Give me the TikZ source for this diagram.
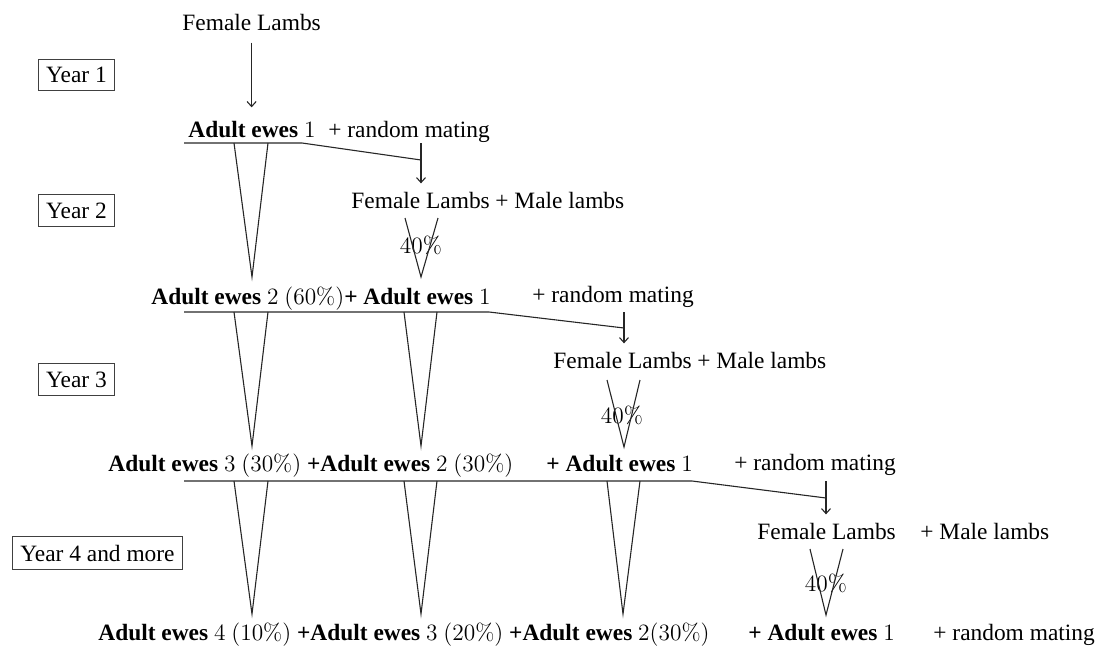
\documentclass[tikz,border=0pt]{standalone}
\usepackage{fontspec}
\setmainfont{Liberation Serif}
\usetikzlibrary{arrows.meta}
\newcommand\nm[1]{{\fontfamily{lmr}\selectfont #1}}
\tikzset{
  txt/.style={inner sep=0pt, anchor=base west, font=\fontsize{11.7}{14}\selectfont},
  pct/.style={inner sep=0pt, anchor=center, font=\fontsize{11.7}{14}\selectfont\fontfamily{lmr}\selectfont},
  yearbox/.style={draw=black!75, line width=0.6pt, inner xsep=4pt, inner ysep=4pt, anchor=center, font=\fontsize{11.7}{14}\selectfont},
  ln/.style={line width=0.55pt, draw=black!85},
  arr/.style={ln, -{Straight Barb[length=2.5pt,width=4.5pt]}},
}
\begin{document}
\begin{tikzpicture}[x=0.5pt,y=-0.5pt]
\useasboundingbox (0,0) rectangle (1103,648);

% year boxes
\node[yearbox] (y1) at (76.5,75) {Year 1};
\node[yearbox] (y2) at (76.5,210.5) {Year 2};
\node[yearbox] (y3) at (76.5,379.5) {Year 3};
\node[yearbox] (y4) at (97.5,553) {Year 4 and more};

% year 1
\node[txt] (fl0) at (182,30) {Female Lambs};
\node[txt] (ae1) at (188,137) {\textbf{Adult ewes} \nm{1}};
\node[txt] (rm1) at (328,137) {+ random mating};
\draw[arr, shorten <=6pt, shorten >=6.5pt] (fl0.south) -- (fl0.south |- ae1.north);

% row 1 lines
\coordinate (l1a) at (184,143);
\coordinate (l1b) at (302,143);
\coordinate (l1c) at (421,160);
\coordinate (l1t) at (421,143);
\draw[ln] (l1a) -- (l1b) -- (l1c);

% year 2 lambs
\node[txt] (fl1) at (351,208) {Female Lambs};
\node[txt] (ml1) at (495,208) {+ Male lambs};
\node[pct] (p1) at (421,245) {40\%};
\draw[arr, shorten >=4pt] (l1t) -- (l1t |- fl1.north);

% V shapes row1 -> row3
\draw[ln] (234,143) -- (252,277) -- (268,143);
\draw[ln] (405,218) -- (421,277) -- (438,218);

% row 3
\node[txt] (ae2) at (151,304) {\textbf{Adult ewes} \nm{2} \nm{(60\%)}\textbf{+ Adult ewes} \nm{1}};
\node[txt] (rm2) at (532,302) {+ random mating};
\coordinate (l2a) at (184,312);
\coordinate (l2b) at (489,312);
\coordinate (l2c) at (624,328);
\coordinate (l2t) at (624,312);
\draw[ln] (l2a) -- (l2b) -- (l2c);

\node[txt] (fl2) at (553,368) {Female Lambs};
\node[txt] (ml2) at (697,368) {+ Male lambs};
\node[pct] (p2) at (622,415) {40\%};
\draw[arr, shorten >=4pt] (l2t) -- (l2t |- fl2.north);

\draw[ln] (234,312) -- (252,446) -- (268,312);
\draw[ln] (404,312) -- (421,446) -- (437,312);
\draw[ln] (607,380) -- (624,447) -- (640,380);

% row 5
\node[txt] (ae3) at (108,471) {\textbf{Adult ewes} \nm{3} \nm{(30\%)} \textbf{+Adult ewes} \nm{2} \nm{(30\%)}};
\node[txt] (ae3b) at (546,471) {\textbf{+ Adult ewes} \nm{1}};
\node[txt] (rm3) at (734,470) {+ random mating};
\coordinate (l3a) at (184,481);
\coordinate (l3b) at (692,481);
\coordinate (l3c) at (826,498);
\coordinate (l3t) at (826,481);
\draw[ln] (l3a) -- (l3b) -- (l3c);

\node[txt] (fl3) at (757,539) {Female Lambs};
\node[txt] (ml3) at (920,539) {+ Male lambs};
\node[pct] (p3) at (826,583) {40\%};
\draw[arr, shorten >=4pt] (l3t) -- (l3t |- fl3.north);

\draw[ln] (234,481) -- (252,614) -- (268,481);
\draw[ln] (404,481) -- (421,614) -- (437,481);
\draw[ln] (607,481) -- (623,614) -- (640,481);
\draw[ln] (810,549) -- (826,615) -- (843,549);

% row 7
\node[txt] (ae4) at (98,640) {\textbf{Adult ewes} \nm{4} \nm{(10\%)} \textbf{+Adult ewes} \nm{3} \nm{(20\%)} \textbf{+Adult ewes} \nm{2(30\%)}};
\node[txt] (ae4b) at (748,640) {\textbf{+ Adult ewes} \nm{1}};
\node[txt] (rm4) at (933,640) {+ random mating};
\end{tikzpicture}
\end{document}
